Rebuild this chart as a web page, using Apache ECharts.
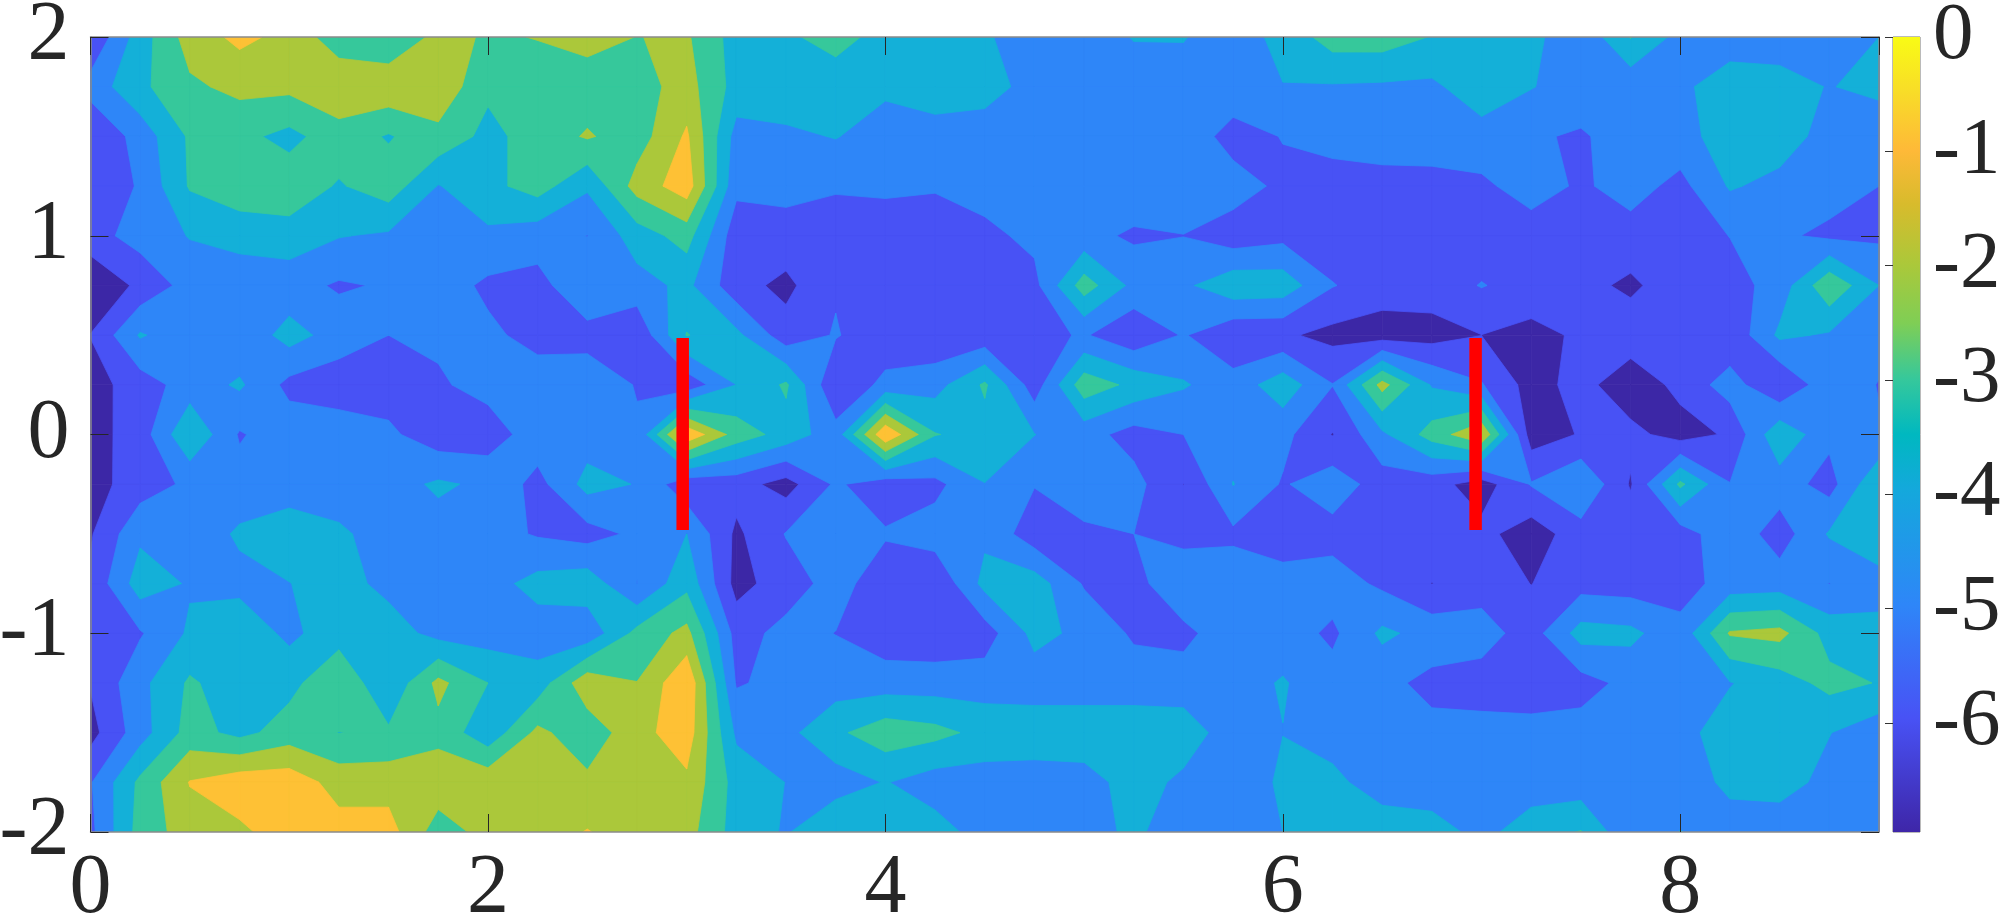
<!DOCTYPE html>
<html><head><meta charset="utf-8">
<style>html,body{margin:0;padding:0;background:#fff}#c{width:2000px;height:915px}</style>
<script src="https://cdn.jsdelivr.net/npm/echarts@6/dist/echarts.min.js"></script>
</head><body><div id="c"></div>
<script>
// grid coordinates
const xValues=[0,.25,.5,.75,1,1.25,1.5,1.75,2,2.25,2.5,2.75,3,3.25,3.5,3.75,4,4.25,4.5,4.75,5,5.25,5.5,5.75,6,6.25,6.5,6.75,7,7.25,7.5,7.75,8,8.25,8.5,8.75,9];
const yValues=[2,1.75,1.5,1.25,1,.75,.5,.25,0,-.25,-.5,-.75,-1,-1.25,-1.5,-1.75,-2];
// field values, one row per y
const zP200=[-5.9,-3.5,-1.55,-0.75,-1.3,-2.6,-2.9,-1.7,-2.1,-1.97,-1.65,-2.02,-1.87,-3.43,-3.2,-2.55,-3.45,-3.5,-3.8,-4.9,-4.5,-3.95,-3.95,-4.5,-3.7,-2.53,-2.5,-3.05,-3.5,-3.7,-4.8,-2.95,-4.35,-4.4,-4.4,-4.3,-4.0];
const zP175=[-4.6,-3.23,-2.18,-1.74,-1.75,-1.2,-1.24,-1.27,-2.8,-2.4,-2.52,-2.4,-1.6,-3.38,-3.3,-3.67,-3.8,-3.5,-3.45,-4.5,-4.4,-4.5,-4.4,-4.2,-4.03,-4.09,-4.15,-4.2,-3.4,-3.95,-4.5,-4.7,-4.16,-3.6,-3.7,-4.04,-3.75];
const zP150=[-5.95,-4.6,-2.85,-2.74,-3.3,-2.44,-3.1,-2.3,-3.3,-2.55,-1.9,-2.5,-0.85,-4.4,-4.22,-3.95,-4.5,-4.4,-4.7,-4.6,-4.5,-4.5,-4.2,-5.5,-4.95,-4.6,-4.6,-4.4,-4.4,-4.9,-5.1,-4.6,-4.4,-3.47,-3.5,-4.4,-4.66];
const zP125=[-5.9,-4.88,-2.9,-2.4,-2.4,-3.1,-2.45,-4.05,-3.3,-2.55,-3.85,-1.6,-0.45,-4.75,-4.7,-4.9,-4.85,-4.9,-4.6,-4.5,-4.4,-4.3,-4.4,-4.46,-5.27,-5.5,-5.3,-5.4,-5.2,-4.55,-5.15,-4.6,-5.3,-3.9,-4.3,-4.6,-5.0];
const zP100=[-5.4,-4.6,-3.95,-3.6,-3.4,-3.95,-4.15,-4.6,-4.2,-4.6,-5.02,-3.5,-2.6,-5.6,-5.4,-5.5,-5.45,-5.6,-5.25,-4.75,-4.7,-5.16,-5.02,-5.6,-5.3,-5.6,-5.6,-5.6,-5.6,-5.5,-5.5,-5.4,-5.5,-4.98,-4.85,-5.2,-5.2];
const zP075=[-6.9,-5.76,-4.6,-4.7,-4.65,-5.12,-4.9,-4.5,-5.2,-5.3,-4.3,-4.4,-3.75,-5.65,-6.25,-5.1,-5.3,-5.4,-5.4,-5.3,-2.5,-4.3,-4.2,-3.3,-3.4,-4.95,-5.5,-5.5,-4.95,-5.4,-5.7,-6.2,-5.4,-5.4,-4.6,-2.2,-4.0];
const zP050=[-5.97,-3.9,-4.67,-4.8,-3.6,-4.45,-5.0,-4.8,-4.8,-5.33,-5.3,-5.85,-2.95,-3.75,-5.6,-4.92,-5.7,-5.8,-5.7,-5.3,-4.9,-5.8,-4.92,-5.82,-5.85,-6.3,-6.5,-6.4,-6.01,-6.3,-5.85,-5.4,-5.4,-5.8,-3.8,-4.12,-4.6];
const zP025=[-6.42,-5.5,-4.55,-3.85,-5.29,-5.6,-5.5,-5.15,-4.6,-4.5,-4.5,-5.05,-5.67,-4.0,-2.85,-5.95,-4.7,-4.4,-2.85,-5.55,-2.4,-3.26,-3.9,-4.6,-3.4,-4.97,-1.65,-4.1,-4.93,-6.4,-5.65,-6.68,-5.7,-4.53,-6.02,-4.3,-5.05];
const zZ000=[-6.39,-5.53,-3.1,-5.1,-4.4,-4.4,-4.8,-5.6,-5.6,-4.4,-4.5,-4.9,-0.2,-2.45,-3.4,-4.6,-0.15,-2.95,-3.4,-3.98,-4.6,-5.4,-5.0,-4.5,-4.7,-6.05,-4.2,-2.58,-1.1,-6.5,-5.93,-5.7,-6.45,-5.85,-3.2,-4.75,-4.9];
const zM025=[-6.4,-5.5,-4.8,-4.6,-4.5,-4.5,-4.4,-3.85,-4.2,-5.35,-3.65,-4.05,-5.7,-5.6,-6.4,-4.85,-5.6,-5.3,-4.02,-4.95,-4.7,-4.66,-6.02,-3.97,-5.1,-4.4,-5.5,-5.6,-6.5,-4.93,-4.05,-6.1,-2.8,-4.97,-4.5,-5.4,-3.1];
const zM050=[-6.1,-4.2,-4.65,-3.85,-3.46,-3.85,-4.4,-4.4,-4.6,-5.1,-5.4,-4.8,-4.0,-6.2,-4.95,-4.5,-4.9,-4.5,-4.2,-5.6,-5.1,-5.0,-5.4,-5.2,-5.4,-5.4,-5.5,-5.5,-5.7,-6.55,-5.43,-5.4,-5.5,-4.3,-5.5,-3.9,-3.3];
const zM075=[-5.8,-3.5,-4.1,-4.3,-4.02,-3.6,-4.3,-4.6,-4.4,-3.65,-3.4,-5.02,-3.3,-6.35,-5.5,-4.6,-5.6,-5.9,-3.7,-3.5,-5.1,-5.4,-4.1,-4.4,-4.7,-4.5,-5.2,-6.02,-5.4,-6.02,-5.4,-5.5,-5.4,-4.6,-4.5,-5.02,-4.4];
const zM100=[-5.6,-5.1,-3.85,-3.3,-4.25,-3.4,-3.5,-4.35,-4.5,-4.5,-4.7,-2.7,-1.7,-5.4,-4.7,-5.02,-5.6,-5.7,-5.5,-3.7,-4.25,-5.15,-5.3,-4.3,-4.5,-5.2,-3.8,-4.37,-4.6,-5.45,-3.6,-3.75,-4.7,-1.9,-1.7,-3.4,-3.7];
const zM125=[-5.93,-4.3,-2.85,-3.6,-3.3,-2.2,-3.84,-1.74,-3.0,-3.58,-1.3,-1.98,-0.15,-5.1,-4.7,-4.5,-4.5,-4.5,-4.5,-4.5,-4.5,-4.5,-4.5,-4.4,-3.92,-4.6,-4.7,-5.3,-5.4,-5.5,-5.4,-4.7,-4.4,-4.05,-3.5,-2.7,-3.05];
const zM150=[-6.35,-4.45,-2.6,-3.3,-2.55,-3.02,-2.85,-2.3,-3.7,-1.75,-2.65,-1.35,-0.45,-4.2,-4.3,-3.2,-2.4,-2.7,-3.3,-3.4,-3.4,-3.4,-3.5,-4.5,-4.02,-4.5,-4.6,-4.7,-4.7,-4.7,-4.6,-4.5,-4.3,-3.55,-3.3,-3.97,-4.6];
const zM175=[-5.08,-2.77,-0.95,-0.4,-0.4,-1.4,-1.4,-1.4,-1.3,-1.3,-1.78,-1.3,-1.2,-3.4,-4.02,-4.5,-3.95,-4.5,-4.5,-4.5,-4.4,-3.6,-4.2,-4.95,-3.76,-3.7,-4.6,-4.7,-4.7,-4.6,-4.6,-4.6,-4.6,-3.75,-3.6,-4.3,-4.6];
const zM200=[-5.25,-2.6,-1.5,-1.2,-0.5,-0.6,-0.6,-2.5,-1.65,-1.5,-0.95,-1.5,-1.6,-3.44,-4.1,-3.05,-3.4,-3.6,-4.4,-4.5,-4.4,-3.8,-4.6,-4.6,-4.0,-3.4,-3.3,-3.5,-4.35,-3.4,-2.95,-4.9,-3.97,-4.5,-4.6,-4.6,-4.6];
const zRows=[zP200,zP175,zP150,zP125,zP100,zP075,zP050,zP025,zZ000,zM025,zM050,zM075,zM100,zM125,zM150,zM175,zM200];
// contour levels and their fills
const levels=[-Infinity,-6,-5,-4,-3,-2,-1];
const bandColors=['#3c27a6','#4852f5','#2e86f8','#14b0d8','#36c89b','#abc83a','#fec135'];
// colour bar
const cbarMin=-6.955, cbarMax=0;
const cbarTicks=[-6,-5,-4,-3,-2,-1,0];
const cbarStops=[[0,'#3e26a8'],[.143,'#4852f5'],[.286,'#2e86f8'],[.43,'#14a8dc'],[.5,'#00b8c0'],[.57,'#36c89b'],[.64,'#7fce55'],[.714,'#abc83a'],[.79,'#d8bb2c'],[.857,'#feb938'],[.93,'#f8dc28'],[1,'#f9fb15']];
// red markers
const barA=[[2.98,-.48],[2.98,.485]];
const barB=[[6.97,-.48],[6.97,.485]];

const cells=[];
for(let j=0;j<yValues.length-1;j++)for(let i=0;i<xValues.length-1;i++)cells.push([i,j]);

function cross(a,b,L){const t=(L-a[2])/(b[2]-a[2]);return [a[0]+t*(b[0]-a[0]),a[1]+t*(b[1]-a[1]),L];}
function clipAbove(poly,L){
  const out=[];
  for(let k=0;k<poly.length;k++){
    const a=poly[k],b=poly[(k+1)%poly.length];
    const ia=a[2]>=L,ib=b[2]>=L;
    if(ia)out.push(a);
    if(ia!==ib)out.push(cross(a,b,L));
  }
  return out;
}
// returns the polygons of a cell at or above level L; a saddle is split when its centre lies below L
function cellPolys(q,L){
  const up=q.map(v=>v[2]>=L);
  const saddle=up[0]===up[2]&&up[1]===up[3]&&up[0]!==up[1];
  const mean=(q[0][2]+q[1][2]+q[2][2]+q[3][2])/4;
  if(saddle&&mean<L){
    const res=[];
    for(let k=0;k<4;k++)if(up[k])res.push([q[k],cross(q[k],q[(k+1)%4],L),cross(q[k],q[(k+3)%4],L)]);
    return res;
  }
  const p=clipAbove(q,L);
  return p.length<3?[]:[p];
}
function bandSeries(idx){
  const L=levels[idx],col=bandColors[idx];
  return {type:'custom',xAxisIndex:0,yAxisIndex:0,z:2+idx*0.01,clip:true,silent:true,data:cells,
    renderItem(params,api){
      const [i,j]=cells[params.dataIndex];
      const q=[[xValues[i],yValues[j],zRows[j][i]],[xValues[i+1],yValues[j],zRows[j][i+1]],
               [xValues[i+1],yValues[j+1],zRows[j+1][i+1]],[xValues[i],yValues[j+1],zRows[j+1][i]]];
      const polys=cellPolys(q,L);
      if(!polys.length)return null;
      return {type:'group',children:polys.map(p=>({type:'polygon',shape:{points:p.map(v=>api.coord([v[0],v[1]]))},style:{fill:col,stroke:col,lineWidth:.8}}))};
    }};
}
const labelFont={fontFamily:'Liberation Serif',fontSize:84,color:'#262626'};
const barLabelFont={fontFamily:'Liberation Serif',fontSize:81,color:'#262626'};
const tickLine={show:true,inside:true,length:18,lineStyle:{color:'#262626',width:1}};
const frame={show:true,onZero:false,lineStyle:{color:'#8a8a8a',width:1.5}};
const chart=echarts.init(document.getElementById('c'),null,{renderer:'canvas'});
chart.setOption({
  animation:false,backgroundColor:'#fff',
  grid:[{left:90.5,top:37,width:1788.5,height:795,containLabel:false,outerBoundsMode:'none'},
        {left:1893,top:37,width:27,height:795,show:true,borderColor:'#777',borderWidth:1,backgroundColor:'transparent',outerBoundsMode:'none'}],
  xAxis:[
    {type:'value',gridIndex:0,min:0,max:9,interval:2,position:'bottom',z:5,splitLine:{show:false},axisLine:frame,axisTick:tickLine,
     axisLabel:{...labelFont,margin:16,hideOverlap:false,showMaxLabel:false}},
    {type:'value',gridIndex:0,min:0,max:9,interval:2,position:'top',z:5,splitLine:{show:false},axisLine:frame,axisTick:tickLine,axisLabel:{show:false}},
    {type:'value',gridIndex:1,min:0,max:1,show:false}
  ],
  yAxis:[
    {type:'value',gridIndex:0,min:-2,max:2,interval:1,position:'left',z:5,splitLine:{show:false},axisLine:frame,axisTick:tickLine,
     axisLabel:{...labelFont,margin:21,padding:[0,0,14,0],hideOverlap:false,showMinLabel:true,showMaxLabel:true}},
    {type:'value',gridIndex:0,min:-2,max:2,interval:1,position:'right',z:5,splitLine:{show:false},axisLine:frame,axisTick:tickLine,axisLabel:{show:false}},
    {type:'value',gridIndex:1,min:cbarMin,max:cbarMax,position:'right',z:5,splitLine:{show:false},
     axisLine:{show:false},
     axisTick:{show:true,inside:true,length:8,customValues:cbarTicks,lineStyle:{color:'#333',width:1}},
     axisLabel:{...barLabelFont,margin:13,padding:[0,0,12,0],hideOverlap:false,customValues:cbarTicks}}
  ],
  series:[
    ...levels.map((_,i)=>bandSeries(i)),
    {type:'line',xAxisIndex:0,yAxisIndex:0,z:6,data:barA,showSymbol:false,silent:true,lineStyle:{color:'#ff0000',width:12.5,cap:'butt'}},
    {type:'line',xAxisIndex:0,yAxisIndex:0,z:6,data:barB,showSymbol:false,silent:true,lineStyle:{color:'#ff0000',width:12.5,cap:'butt'}},
    {type:'custom',xAxisIndex:2,yAxisIndex:2,z:2,silent:true,clip:false,data:[[0,cbarMin]],
     renderItem(params,api){
       const a=api.coord([0,cbarMax]),b=api.coord([1,cbarMin]);
       return {type:'rect',shape:{x:a[0],y:a[1],width:b[0]-a[0],height:b[1]-a[1]},
         style:{fill:new echarts.graphic.LinearGradient(0,1,0,0,cbarStops.map(s=>({offset:s[0],color:s[1]})))}};
     }}
  ]
});
</script></body></html>
